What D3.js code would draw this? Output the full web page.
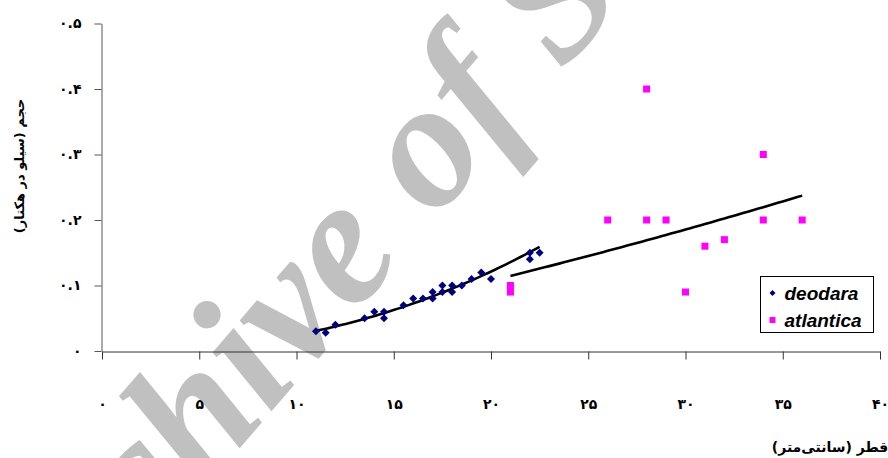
<!DOCTYPE html>
<html>
<head>
<meta charset="utf-8">
<script src="https://cdn.jsdelivr.net/npm/d3@7"></script>
<style>
  body { margin: 0; background: #fff; }
  svg { display: block; }
</style>
</head>
<body>
<svg id="chart" width="888" height="458"></svg>
<script>
// Diameter (cm) and volume (silo per hectare) for the two cedar species
const deodaraDiameter = [11, 11.5, 12, 13.5, 14, 14.5, 14.5, 15.5, 16, 16.5, 17, 17, 17.5, 17.5, 18, 18, 18.5, 19, 19.5, 20, 22, 22, 22.5];
const deodaraVolume   = [0.03, 0.028, 0.04, 0.05, 0.06, 0.06, 0.05, 0.07, 0.08, 0.08, 0.09, 0.08, 0.10, 0.09, 0.10, 0.09, 0.10, 0.11, 0.12, 0.11, 0.15, 0.14, 0.15];
const atlanticaDiameter = [21, 21, 26, 28, 28, 29, 30, 31, 32, 34, 34, 36];
const atlanticaVolume   = [0.10, 0.09, 0.20, 0.40, 0.20, 0.20, 0.09, 0.16, 0.17, 0.30, 0.20, 0.20];
const seriesNames = ["deodara", "atlantica"];
const xTicks = [0, 5, 10, 15, 20, 25, 30, 35, 40];
const yTicks = [0, 0.1, 0.2, 0.3, 0.4, 0.5];
const xTitle = "قطر (سانتی‌متر)";
const yTitle = "حجم (سیلو در هکتار)";
const watermark = "Archive of SID";

const faDigits = "۰۱۲۳۴۵۶۷۸۹";
const toFa = v => String(+v.toFixed(2)).replace(/[0-9]/g, d => faDigits[+d]);

const svg = d3.select("#chart");
const x = d3.scaleLinear().domain([0, 40]).range([102, 880]);
const y = d3.scaleLinear().domain([0, 0.5]).range([351, 23.5]);

const faFont = "'DejaVu Sans', sans-serif";

// archive stamp, laid under the chart: sized and placed so that its
// "e" and "o" glyphs sit at the given spots along a -49.6° baseline
const stamp = svg.append("text")
  .attr("font-family", "'Liberation Serif', 'Times New Roman', serif")
  .attr("font-size", 180).attr("font-weight", "bold").attr("font-style", "italic")
  .attr("fill", "#c0c0c0")
  .text(watermark);
{
  const glyphCenter = (i, fs) => {
    const b = stamp.node().getExtentOfChar(i);
    return [b.x + b.width / 2 + 0.06 * fs, -0.23 * fs];
  };
  const eSpot = [355, 250], oSpot = [440, 151];
  const angle = Math.atan2(oSpot[1] - eSpot[1], oSpot[0] - eSpot[0]);
  const gap = Math.hypot(oSpot[0] - eSpot[0], oSpot[1] - eSpot[1]);
  const d0 = glyphCenter(8, 180)[0] - glyphCenter(6, 180)[0];
  const fs = 180 * gap / d0;
  stamp.attr("font-size", fs);
  const [ex, ey] = glyphCenter(6, fs);
  const c = Math.cos(angle), s = Math.sin(angle);
  const px = eSpot[0] - (ex * c - ey * s);
  const py = eSpot[1] - (ex * s + ey * c);
  stamp.attr("transform", `translate(${px},${py}) rotate(${angle * 180 / Math.PI})`);
}

// x axis
const gx = svg.append("g").attr("transform", "translate(0,351.5)")
  .call(d3.axisBottom(x).tickValues(xTicks).tickSizeInner(8).tickSizeOuter(0)
    .tickPadding(40).tickFormat(toFa));
gx.select(".domain").attr("stroke", "#333");
gx.selectAll(".tick line").attr("stroke", "#333");
gx.selectAll(".tick text").attr("fill", "#000").attr("font-family", faFont)
  .attr("font-size", 14).attr("font-weight", "bold");

// y axis
const gy = svg.append("g").attr("transform", "translate(101.5,0)")
  .call(d3.axisLeft(y).tickValues(yTicks).tickSizeInner(7).tickSizeOuter(0)
    .tickPadding(13).tickFormat(toFa));
gy.select(".domain").attr("stroke", "#555");
gy.selectAll(".tick line").attr("stroke", "#555");
gy.selectAll(".tick text").attr("fill", "#000").attr("font-family", faFont)
  .attr("font-size", 14).attr("font-weight", "bold");

// axis titles
svg.append("text")
  .attr("transform", "translate(24,166) rotate(-90)")
  .attr("text-anchor", "middle").attr("direction", "rtl")
  .attr("font-family", faFont).attr("font-size", 13).attr("font-weight", "bold")
  .text(yTitle);
svg.append("text")
  .attr("x", 830).attr("y", 452)
  .attr("text-anchor", "middle").attr("direction", "rtl")
  .attr("font-family", faFont).attr("font-size", 14).attr("font-weight", "bold")
  .text(xTitle);

// power trendline fitted by least squares on log-log values
function powerFit(xs, ys) {
  const lx = xs.map(Math.log), ly = ys.map(Math.log);
  const mx = d3.mean(lx), my = d3.mean(ly);
  const b = d3.sum(lx, (v, i) => (v - mx) * (ly[i] - my)) / d3.sum(lx, v => (v - mx) ** 2);
  const a = Math.exp(my - b * mx);
  const [lo, hi] = d3.extent(xs);
  return d3.range(0, 61).map(i => {
    const xv = lo + (hi - lo) * i / 60;
    return [xv, a * Math.pow(xv, b)];
  });
}
const line = d3.line().x(d => x(d[0])).y(d => y(d[1]));
[[deodaraDiameter, deodaraVolume], [atlanticaDiameter, atlanticaVolume]].forEach(([xs, ys]) => {
  svg.append("path").attr("d", line(powerFit(xs, ys)))
    .attr("fill", "none").attr("stroke", "#000").attr("stroke-width", 2.6);
});

// markers
const diamond = r => `M0,${-r}L${r},0L0,${r}L${-r},0Z`;
svg.append("g").selectAll("path").data(deodaraDiameter).join("path")
  .attr("transform", (d, i) => `translate(${x(d)},${y(deodaraVolume[i])})`)
  .attr("d", diamond(4)).attr("fill", "#000080");
svg.append("g").selectAll("rect").data(atlanticaDiameter).join("rect")
  .attr("x", d => x(d) - 3.5).attr("y", (d, i) => y(atlanticaVolume[i]) - 3.5)
  .attr("width", 7).attr("height", 7).attr("fill", "#ff00ff");

// legend
const lg = svg.append("g").attr("transform", "translate(760.5,276.5)");
lg.append("rect").attr("width", 113).attr("height", 56)
  .attr("fill", "#fff").attr("stroke", "#000");
lg.append("path").attr("transform", "translate(12,16.5)").attr("d", diamond(3)).attr("fill", "#000080");
lg.append("rect").attr("x", 9).attr("y", 40.5).attr("width", 6).attr("height", 6).attr("fill", "#ff00ff");
lg.selectAll("text").data(seriesNames).join("text")
  .attr("x", 24).attr("y", (d, i) => 23 + i * 27)
  .attr("font-family", "'Liberation Sans', Arial, sans-serif")
  .attr("font-size", 19).attr("font-weight", "bold").attr("font-style", "italic")
  .text(d => d);
</script>
</body>
</html>
